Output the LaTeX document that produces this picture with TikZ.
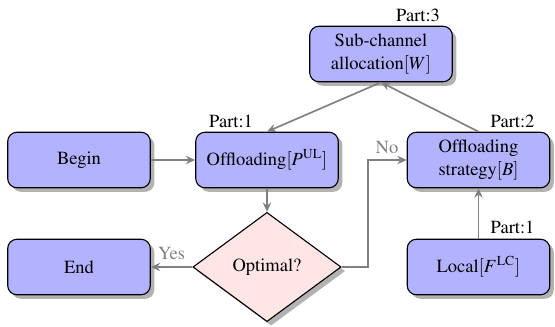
\documentclass[tikz,border=0pt]{standalone}
\usepackage[T1]{fontenc}
\usepackage{mathptmx}
\usetikzlibrary{shapes.geometric,shadows,arrows.meta}
\begin{document}
\begin{tikzpicture}[x=0.54pt,y=-0.54pt,
  box/.style={draw=black, fill=blue!30, rounded corners=5pt, minimum width=77pt, minimum height=30pt,
    align=center, line width=0.6pt, inner sep=2pt,
    drop shadow={shadow xshift=2.2pt, shadow yshift=-2.2pt, fill=black!30, opacity=1}},
  dec/.style={diamond, draw=black, fill=red!10, minimum width=80pt, minimum height=59pt, inner sep=0pt,
    line width=0.6pt, drop shadow={shadow xshift=2.2pt, shadow yshift=-2.2pt, fill=black!30, opacity=1}},
  conn/.style={draw=gray, line width=0.9pt, -{Stealth[length=5pt,width=4.5pt]}},
  part/.style={inner sep=0pt},
  ans/.style={inner sep=0pt, text=gray}]
\useasboundingbox (0,0) rectangle (555,327);
\node[box] (begin) at (79,160) {Begin};
\node[box] (offp) at (267,160) {Offloading$[P^{\mathrm{UL}}]$};
\node[box] (sub) at (381,54) {Sub-channel\\allocation$[W]$};
\node[box] (strat) at (478.5,160) {Offloading\\strategy$[B]$};
\node[box] (end) at (79,267) {End};
\node[box] (local) at (478.5,267) {Local$[F^{\mathrm{LC}}]$};
\node[dec] (opt) at (267,267) {Optimal?};
\node[part] (p1) at (231,121) {Part:1};
\node[part] (p3) at (418,15) {Part:3};
\node[part] (p2) at (512.5,121) {Part:2};
\node[part] (p1b) at (512.5,227) {Part:1};
\node[ans] (yes) at (171.5,254) {Yes};
\node[ans] (no) at (387,148) {No};
\coordinate (nk) at (368,160);
\draw[conn] (begin) -- (offp);
\draw[conn] (offp) -- (opt);
\draw[conn] (opt) -- (end);
\draw[conn] (opt.east) -| (nk) -- (strat.west);
\draw[conn] (local) -- (strat);
\draw[conn] (strat.north) -- (sub.south);
\draw[conn] (sub.south) -- (offp.north);
\end{tikzpicture}
\end{document}
